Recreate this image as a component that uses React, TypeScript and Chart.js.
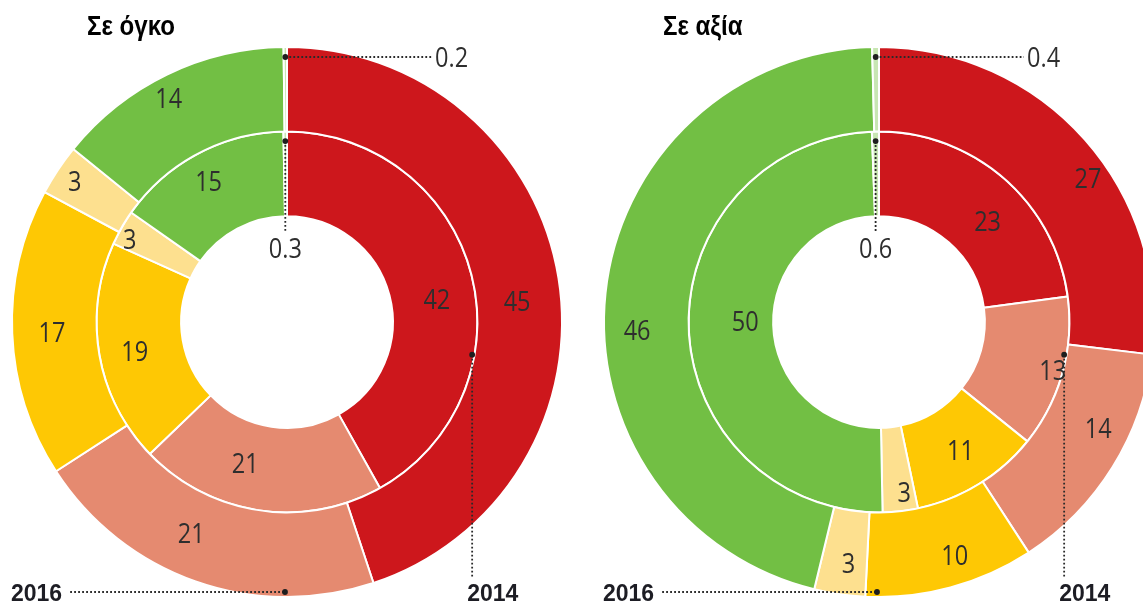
import { useEffect, useRef } from "react";
import { Chart, registerables } from "chart.js";

Chart.register(...registerables);

// ---------- data ----------
const categories = ["Κατηγορία Α", "Κατηγορία Β", "Κατηγορία Γ", "Κατηγορία Δ", "Κατηγορία Ε", "Λοιπά"];
const volume2016 = [45, 21, 17, 3, 14, 0.2];
const volume2014 = [42, 21, 19, 3, 15, 0.3];
const value2016 = [27, 14, 10, 3, 46, 0.4];
const value2014 = [23, 13, 11, 3, 50, 0.6];
const years = ["2016", "2014"];
const titles = ["Σε όγκο", "Σε αξία"];

// ---------- style ----------
const sliceColors = ["#cd171c", "#e58a70", "#fec804", "#fde08f", "#72bf44", "#c8e6b3"];
// label placement: [radial fraction within ring, angle offset (deg)]
const volumeNudges = [
  [[0.48, 4], [0.49, 5], [0.53, 0], [0.76, 0], [0.74, -2]],
  [[0.54, 6], [0.49, 8], [0.58, -1], [0.85, -2], [0.66, -1]],
];
const valueNudges = [
  [[0.75, 7], [0.63, -6], [0.64, -3], [0.62, -1], [0.61, -8]],
  [[0.5, 6], [0.88, 0], [0.54, -1], [0.78, -2], [0.33, 2]],
];

const NUM_FONT_SIZE = 28;
const NUM_FONT = `400 ${NUM_FONT_SIZE}px "Open Sans", "Noto Sans", sans-serif`;
const NUM_SCALE = 0.84;
const TITLE_FONT = `700 28px "Liberation Sans", Arial, sans-serif`;
const YEAR_FONT = `700 23px "Liberation Sans", Arial, sans-serif`;
const TEXT_COLOR = "#2e2e2e";
const LEADER_COLOR = "#2a2a2a";

type Panel = {
  outer: number[];
  inner: number[];
  nudges: number[][][];
  title: string;
  titleX: number;
  padding: { left: number; right: number; top: number; bottom: number };
};

const panels: Panel[] = [
  {
    outer: volume2016,
    inner: volume2014,
    nudges: volumeNudges,
    title: titles[0],
    titleX: 87,
    padding: { left: 0, right: 46, top: 40, bottom: 0 },
  },
  {
    outer: value2016,
    inner: value2014,
    nudges: valueNudges,
    title: titles[1],
    titleX: 103,
    padding: { left: 18, right: 0, top: 40, bottom: 0 },
  },
];

function drawText(
  ctx: CanvasRenderingContext2D,
  text: string,
  x: number,
  baseline: number,
  font: string,
  color: string,
  align: "left" | "center",
  scaleX: number
) {
  ctx.save();
  ctx.font = font;
  ctx.fillStyle = color;
  ctx.textBaseline = "alphabetic";
  ctx.textAlign = "left";
  const w = ctx.measureText(text).width * scaleX;
  const left = align === "center" ? x - w / 2 : x;
  ctx.translate(left, baseline);
  ctx.scale(scaleX, 1);
  ctx.fillText(text, 0, 0);
  ctx.restore();
  return w;
}

function dotted(ctx: CanvasRenderingContext2D, x1: number, y1: number, x2: number, y2: number) {
  ctx.save();
  ctx.strokeStyle = LEADER_COLOR;
  ctx.lineWidth = 1.8;
  ctx.setLineDash([1.8, 2.2]);
  ctx.beginPath();
  ctx.moveTo(x1, y1);
  ctx.lineTo(x2, y2);
  ctx.stroke();
  ctx.restore();
}

function dot(ctx: CanvasRenderingContext2D, x: number, y: number) {
  ctx.save();
  ctx.fillStyle = "#1e1e1e";
  ctx.beginPath();
  ctx.arc(x, y, 2.9, 0, Math.PI * 2);
  ctx.fill();
  ctx.restore();
}

function decor(p: Panel) {
  return {
    id: "decor",
    afterDatasetsDraw(chart: any) {
      const ctx: CanvasRenderingContext2D = chart.ctx;
      const rings = [chart.getDatasetMeta(0).data, chart.getDatasetMeta(1).data];
      const vals = [p.outer, p.inner];
      const first = rings[0][0].getProps(["x", "y", "outerRadius", "innerRadius"], true);
      const cx = first.x;
      const cy = first.y;
      const outerR = first.outerRadius;
      const innerRingOuter = rings[1][0].getProps(["outerRadius"], true).outerRadius;
      const numOffset = NUM_FONT_SIZE * 0.357;

      // segment labels
      for (let r = 0; r < 2; r++) {
        const n = vals[r].length;
        for (let i = 0; i < n - 1; i++) {
          const a = rings[r][i].getProps(["startAngle", "endAngle", "innerRadius", "outerRadius"], true);
          const [f, da] = p.nudges[r][i];
          const ang = (a.startAngle + a.endAngle) / 2 + (da * Math.PI) / 180;
          const rad = a.innerRadius + f * (a.outerRadius - a.innerRadius);
          const x = cx + rad * Math.cos(ang);
          const y = cy + rad * Math.sin(ang);
          drawText(ctx, String(vals[r][i]), x, y + numOffset, NUM_FONT, TEXT_COLOR, "center", NUM_SCALE);
        }
      }

      // small outer slice leader
      const so = rings[0][vals[0].length - 1].getProps(["startAngle", "endAngle"], true);
      const soAng = (so.startAngle + so.endAngle) / 2;
      const soX = cx + (outerR - 10) * Math.cos(soAng);
      const soY = cy + (outerR - 10) * Math.sin(soAng);
      dotted(ctx, soX, soY, cx + 145, soY);
      dot(ctx, soX, soY);
      drawText(ctx, String(vals[0][vals[0].length - 1]), cx + 148, soY + numOffset, NUM_FONT, TEXT_COLOR, "left", NUM_SCALE);

      // small inner slice leader
      const si = rings[1][vals[1].length - 1].getProps(["startAngle", "endAngle"], true);
      const siAng = (si.startAngle + si.endAngle) / 2;
      const siX = cx + (innerRingOuter - 9.5) * Math.cos(siAng);
      const siY = cy + (innerRingOuter - 9.5) * Math.sin(siAng);
      dotted(ctx, siX, siY, siX, cy - 90);
      dot(ctx, siX, siY);
      drawText(ctx, String(vals[1][vals[1].length - 1]), siX, cy - 74 + numOffset, NUM_FONT, TEXT_COLOR, "center", NUM_SCALE);

      // year 2016 (outer ring)
      const yBottom = cy + outerR - 5;
      const y16X = cx - 2;
      const wYear = drawText(ctx, years[0], cx - 276, 601, YEAR_FONT, "#1d1d24", "left", 1);
      dotted(ctx, cx - 276 + wYear + 8, yBottom, y16X, yBottom);
      dot(ctx, y16X, yBottom);

      // year 2014 (inner ring)
      const a14 = (10 * Math.PI) / 180;
      const x14 = cx + 188 * Math.cos(a14);
      const y14 = cy + 188 * Math.sin(a14);
      dotted(ctx, x14, y14, x14, 578);
      dot(ctx, x14, y14);
      drawText(ctx, years[1], x14 - 5, 601, YEAR_FONT, "#1d1d24", "left", 1);

      // title
      drawText(ctx, p.title, p.titleX, 35, TITLE_FONT, "#000", "left", 0.86);
    },
  };
}

function makeChart(canvas: HTMLCanvasElement, p: Panel) {
  const ds = (label: string, data: number[]) => ({
    label,
    data,
    backgroundColor: sliceColors,
    borderColor: "#ffffff",
    borderWidth: 2,
    hoverOffset: 0,
    hoverBorderWidth: 2,
  });
  return new Chart(canvas, {
    type: "doughnut",
    data: {
      labels: categories,
      datasets: [ds(years[0], p.outer), ds(years[1], p.inner)],
    },
    options: {
      responsive: false,
      animation: false,
      devicePixelRatio: 1,
      radius: 275,
      cutout: "38.5%",
      rotation: 0,
      events: [],
      layout: { padding: p.padding },
      plugins: { legend: { display: false }, tooltip: { enabled: false } },
    } as any,
    plugins: [decor(p)],
  });
}

export default function App() {
  const ref1 = useRef<HTMLCanvasElement>(null);
  const ref2 = useRef<HTMLCanvasElement>(null);
  useEffect(() => {
    const charts = [makeChart(ref1.current!, panels[0]), makeChart(ref2.current!, panels[1])];
    return () => charts.forEach((c) => c.destroy());
  }, []);
  return (
    <div
      style={{
        position: "fixed",
        left: 0,
        top: 0,
        width: 1143,
        height: 604,
        overflow: "hidden",
        background: "#ffffff",
      }}
    >
      <canvas ref={ref1} width={620} height={604} style={{ position: "absolute", left: 0, top: 0 }} />
      <canvas ref={ref2} width={620} height={604} style={{ position: "absolute", left: 560, top: 0 }} />
    </div>
  );
}
